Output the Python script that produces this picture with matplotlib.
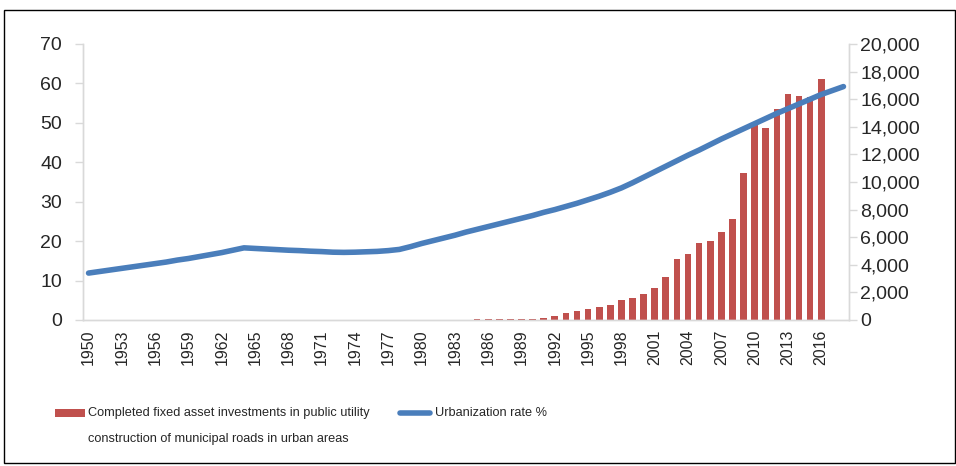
import matplotlib
matplotlib.use("Agg")
import matplotlib.pyplot as plt
from matplotlib.patches import Rectangle
from matplotlib.lines import Line2D
from matplotlib.ticker import FuncFormatter

plt.rcParams['font.family'] = ['Liberation Sans', 'DejaVu Sans']

years = list(range(1950, 2019))

# Urbanization rate % (left axis)
urban_rate = [
    11.9, 12.3, 12.7, 13.1, 13.5, 13.9, 14.3, 14.7, 15.2, 15.6,   # 1950-1959
    16.1, 16.6, 17.1, 17.7, 18.3, 18.15, 18.0, 17.85, 17.7, 17.6,  # 1960-1969
    17.45, 17.35, 17.2, 17.15, 17.2, 17.3, 17.4, 17.6, 17.9, 18.6,  # 1970-1979
    19.4, 20.1, 20.8, 21.5, 22.3, 23.0, 23.7, 24.4, 25.1, 25.8,    # 1980-1989
    26.5, 27.3, 28.0, 28.8, 29.6, 30.5, 31.4, 32.4, 33.5, 34.8,    # 1990-1999
    36.2, 37.6, 39.0, 40.4, 41.8, 43.1, 44.5, 45.9, 47.2, 48.5,    # 2000-2009
    49.8, 51.1, 52.4, 53.6, 54.8, 56.0, 57.2, 58.2, 59.2,          # 2010-2018
]

# Completed fixed asset investments (right axis)
bar_years = list(range(1985, 2017))
investment = [
    50, 60, 70, 80, 80, 90, 140, 260, 480, 640,          # 1985-1994
    770, 920, 1090, 1450, 1570, 1870, 2310, 3100, 4430, 4750,  # 1995-2004
    5580, 5750, 6400, 7340, 10630, 14250, 13940, 15290, 16350, 16230,  # 2005-2014
    16180, 17440,                                        # 2015-2016
]

xtick_years = list(range(1950, 2017, 3))
left_ticks = list(range(0, 71, 10))
right_ticks = list(range(0, 20001, 2000))

bar_label_lines = ["Completed fixed asset investments in public utility",
                   "construction of municipal roads in urban areas"]
line_label = "Urbanization rate %"

W, H = 956, 466
fig = plt.figure(figsize=(W / 100, H / 100), dpi=100)

ax = fig.add_axes([83 / W, 1 - 320 / H, (849 - 83) / W, (320 - 44) / H])
ax2 = ax.twinx()

bar_color = '#C0504D'
line_color = '#4A7EBB'
axis_gray = '#D9D9D9'
text_color = '#262626'

ax2.bar(bar_years, investment, width=0.6, color=bar_color, zorder=2)
ax.plot(years, urban_rate, color=line_color, lw=4.0, solid_capstyle='round', zorder=5)
ax.set_zorder(ax2.get_zorder() + 1)
ax.patch.set_visible(False)

ax.set_xlim(1949.5, 2018.5)
ax.set_ylim(0, 70)
ax2.set_ylim(0, 20000)

ax.set_yticks(left_ticks)
ax2.set_yticks(right_ticks)
ax2.yaxis.set_major_formatter(FuncFormatter(lambda v, p: f"{int(v):,}"))
ax.set_xticks(xtick_years)
ax.set_xticklabels([str(y) for y in xtick_years], rotation=90)

for a in (ax, ax2):
    a.spines['top'].set_visible(False)
    for s in ('left', 'right', 'bottom'):
        a.spines[s].set_color(axis_gray)
        a.spines[s].set_linewidth(1.0)

ax.tick_params(axis='y', direction='out', length=6, width=1, color=axis_gray,
               labelsize=14, labelcolor=text_color, pad=9)
ax2.tick_params(axis='y', direction='out', length=6, width=1, color=axis_gray,
                labelsize=14, labelcolor=text_color, pad=2)
ax.tick_params(axis='x', length=0, labelsize=11.5, labelcolor=text_color, pad=7)

def fx(px):
    return px / W

def fy(py):
    return 1 - py / H

# Legend drawn in figure pixel coordinates
fig.patches.append(Rectangle((fx(55), fy(417)), 30 / W, 8 / H, transform=fig.transFigure,
                             facecolor=bar_color, edgecolor='none'))
fig.text(fx(88), fy(413), bar_label_lines[0], fontsize=9.2, color=text_color,
         va='center', ha='left', transform=fig.transFigure)
fig.text(fx(88), fy(439), bar_label_lines[1], fontsize=9.2, color=text_color,
         va='center', ha='left', transform=fig.transFigure)
fig.lines.append(Line2D([fx(400), fx(430)], [fy(413), fy(413)], transform=fig.transFigure,
                        color=line_color, lw=4.0, solid_capstyle='round'))
fig.text(fx(435), fy(413), line_label, fontsize=9.2, color=text_color,
         va='center', ha='left', transform=fig.transFigure)

# Outer frame
fig.patches.append(Rectangle((fx(4), fy(463)), (955 - 4) / W, (463 - 10) / H,
                             transform=fig.transFigure, facecolor='none',
                             edgecolor='#000000', lw=1.0))

fig.savefig("out.png", dpi=100)
